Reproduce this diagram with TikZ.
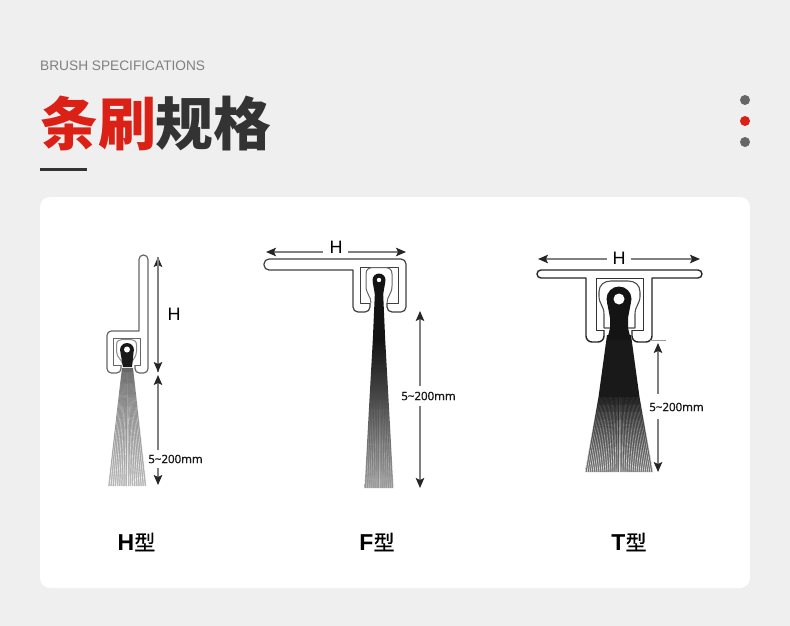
\documentclass[tikz,border=0pt]{standalone}
\usepackage{fontspec}
\usetikzlibrary{arrows.meta}
\setmainfont{Liberation Sans}
\newfontfamily\cjk{Noto Sans CJK SC}
\newfontfamily\cjkmid[FakeBold=0.6]{Noto Sans CJK SC}
\newfontfamily\dimfont[FakeBold=0.5]{Noto Sans}
\definecolor{pagegray}{HTML}{EFEFEF}
\definecolor{titlered}{HTML}{DB2015}
\definecolor{titledark}{HTML}{333333}
\definecolor{dotgray}{HTML}{666666}
\definecolor{subgray}{HTML}{808080}
\definecolor{linegray}{HTML}{808080}

\tikzset{
  profile/.style={draw=#1,line width=1.2pt,line join=round},
  profile/.default={black!80},
  dimline/.style={draw=linegray,line width=1.2pt,-{Stealth[length=10pt,width=8.5pt,inset=2pt,black!85]}},
  dimtext/.style={font=\dimfont\fontsize{11.5}{12}\selectfont,inner sep=1pt,text=black!90},
  hmark/.style={font=\fontsize{18}{18}\selectfont,inner sep=0pt,text=black},
  typelabel/.style={font=\fontsize{23}{23}\selectfont,inner sep=0pt,text=black},
  sidedot/.style={shape=circle,fill=#1,inner sep=0pt,minimum size=10pt}
}

% white gaps between the bristles, stronger towards the tip
\newcommand{\bristles}[7]{%
  \foreach \i in {-#6,...,#6}{
    \foreach \s in {0,...,9}{
      \pgfmathsetmacro{\ya}{#2+(#4-#2)*\s/10}
      \pgfmathsetmacro{\yb}{#2+(#4-#2)*(\s+1)/10}
      \pgfmathsetmacro{\xa}{#1+\i/#6*(#3+(#5-#3)*\s/10)}
      \pgfmathsetmacro{\xb}{#1+\i/#6*(#3+(#5-#3)*(\s+1)/10)}
      \pgfmathsetmacro{\op}{#7*(\s+1)/10}
      \draw[white,line width=0.6pt,opacity=\op] (\xa,\ya) -- (\xb,\yb);
    }
  }
}

\begin{document}
\begin{tikzpicture}[x=1pt,y=-1pt]

  \fill[pagegray] (0,0) rectangle (790,626);
  \useasboundingbox (0,0) rectangle (790,626);
  \fill[white,rounded corners=10pt] (40,197) rectangle (750,588);

  % heading
  \node[anchor=west,inner sep=0pt,text=subgray,font=\fontsize{13.7}{15}\selectfont] (subtitle) at (40,65.5) {BRUSH SPECIFICATIONS};
  \node[anchor=west,inner sep=0pt,font=\cjk\bfseries\fontsize{57.8}{58}\selectfont] (title) at (40,123) {\textcolor{titlered}{条刷}\textcolor{titledark}{规格}};
  \fill[titledark] (40,168) rectangle (87,171);

  \node[sidedot=dotgray] (dot1) at (745,100) {};
  \node[sidedot=titlered] (dot2) at (745,121) {};
  \node[sidedot=dotgray] (dot3) at (745,142) {};

  % H type
  \shade[top color=black!60,bottom color=black!28] (122,368) -- (133,368) -- (146.5,486) -- (108,486) -- cycle;
  \bristles{127.2}{372}{6}{487}{19.5}{9}{0.85}
  \draw[profile=black!60] (121,365) [rounded corners=4.4pt] -- (121,373) -- (107,373) -- (107,331) [sharp corners] -- (139,331) [rounded corners=4.4pt] -- (139,255) -- (148,255) -- (148,373) -- (135,373) -- (135,365);
  \draw[profile=black!60,line width=0.9pt] (121,365) -- (113,365) -- (113,338) -- (140,338) -- (140,365) -- (135,365);
  \draw[profile=black!45,line width=1pt] (123,365) .. controls (122,359) and (116.5,358) .. (116.5,351) -- (116.5,345) .. controls (116.5,341) and (119,339.5) .. (122,339.5) -- (131,339.5) .. controls (134,339.5) and (136.5,341) .. (136.5,345) -- (136.5,351) .. controls (136.5,358) and (132,359) .. (131,365);
  \fill[black!90] (127,350) circle (7pt);
  \fill[black!90] (120.5,353) -- (123,367) -- (132,367) -- (133.5,353) -- cycle;
  \fill[white] (127,349.5) circle (3pt);

  \node[hmark] (Hh) at (174,314) {H};
  \node[dimtext] (Hd) at (175.5,459) {5\textasciitilde200mm};
  \coordinate (Hh1) at (158,257);
  \coordinate (Hh2) at (158,372);
  \coordinate (Hd1) at (158,375);
  \coordinate (Hd2) at (158,485);
  \coordinate (Hm) at (158,450);
  \coordinate (Hn) at (158,468);
  \draw[dimline] (Hh2) -- (Hh1);
  \draw[dimline] (Hh1) -- (Hh2);
  \draw[dimline] (Hm) -- (Hd1);
  \draw[dimline] (Hn) -- (Hd2);
  \node[typelabel] (Ht) at (136.5,542) {\textbf{H}{\cjkmid\fontsize{21}{21}\selectfont 型}};

  % F type
  \fill[black!92] (375,290) -- (383,290) -- (385.2,340) -- (372.8,340) -- cycle;
  \shade[top color=black!92,bottom color=black!40] (372.8,340) -- (385.2,340) -- (393.5,488) -- (364.5,488) -- cycle;
  \bristles{379}{400}{10}{488}{14.5}{7}{0.4}
  \draw[profile=black!75] (370,303) [rounded corners=5pt] -- (370,312) -- (353,312) [sharp corners] -- (353,270) [rounded corners=5pt] -- (264,270) -- (264,259) -- (406,259) -- (406,312) -- (387,312) -- (387,303);
  \draw[profile=black!75,line width=1pt] (370,303) -- (360,303) -- (360,267) -- (398,267) -- (398,303) -- (387,303);
  \draw[profile=black!60,line width=1pt] (371,303) .. controls (371,296) and (366,294) .. (366,286) -- (366,274) .. controls (366,269) and (369,267.5) .. (374,267.5) -- (384,267.5) .. controls (389,267.5) and (392,269) .. (392,274) -- (392,286) .. controls (392,294) and (387,296) .. (387,303);
  \fill[black!92] (379,280) circle (6.5pt);
  \fill[black!92] (372.7,282) -- (375,295) -- (383,295) -- (385.3,282) -- cycle;
  \fill[white] (379,280) circle (2.2pt);

  \node[hmark] (Fh) at (336,247) {H};
  \node[dimtext] (Fd) at (428.5,396) {5\textasciitilde200mm};
  \coordinate (Fh1) at (266,252);
  \coordinate (Fh2) at (406,252);
  \coordinate (Fh3) at (323,252);
  \coordinate (Fh4) at (348,252);
  \coordinate (Fd1) at (420,311);
  \coordinate (Fd2) at (420,488);
  \coordinate (Fm) at (420,386);
  \coordinate (Fn) at (420,406);
  \draw[dimline] (Fh3) -- (Fh1);
  \draw[dimline] (Fh4) -- (Fh2);
  \draw[dimline] (Fm) -- (Fd1);
  \draw[dimline] (Fn) -- (Fd2);
  \node[typelabel] (Ft) at (377,542) {\textbf{F}{\cjkmid\fontsize{21}{21}\selectfont 型}};

  % T type
  \fill[black!90] (607,335) -- (631,335) -- (639.5,397) -- (598.5,397) -- cycle;
  \shade[top color=black!90,bottom color=black!55] (598.5,397) -- (639.5,397) -- (653,472) -- (585,472) -- cycle;
  \bristles{619}{397}{20.5}{473}{34}{17}{0.8}
  \draw[profile=black!85,line width=1.4pt] (604,330) [rounded corners=6pt] -- (604,342) -- (586,342) [sharp corners] -- (586,278) [rounded corners=4pt] -- (537,278) -- (537,270) -- (702,270) -- (702,278) [sharp corners] -- (652,278) [rounded corners=6pt] -- (652,342) -- (632,342) -- (632,330);
  \draw[profile=black!80,line width=1pt] (604,330) -- (596,330) -- (596,278) -- (643,278) -- (643,330) -- (632,330);
  \draw[profile=black!70,line width=1.1pt] (611,328) -- (604,328) -- (604,314) .. controls (604,306) and (599,304) .. (599,296) -- (599,292) .. controls (599,285) and (604,281) .. (611,281) -- (628,281) .. controls (635,281) and (640,285) .. (640,292) -- (640,296) .. controls (640,304) and (635,306) .. (635,314) -- (635,328) -- (628,328);
  \fill[black!92] (619,299) circle (12.5pt);
  \fill[black!92] (607,302) -- (610,318) -- (610,328) -- (607,340) -- (631,340) -- (628,328) -- (628,318) -- (631,302) -- cycle;
  \fill[white] (619,299) circle (5.5pt);

  \node[hmark] (Th) at (619,258) {H};
  \node[dimtext] (Td) at (676.5,407) {5\textasciitilde200mm};
  \coordinate (Th1) at (538,259);
  \coordinate (Th2) at (700,259);
  \coordinate (Th3) at (607,259);
  \coordinate (Th4) at (631,259);
  \coordinate (Td1) at (658,343);
  \coordinate (Td2) at (658,472);
  \coordinate (Tm) at (658,394);
  \coordinate (Tn) at (658,419);
  \coordinate (Ttick1) at (650,340.5);
  \coordinate (Ttick2) at (666,340.5);
  \draw[draw=black!40,line width=0.7pt] (Ttick1) -- (Ttick2);
  \draw[dimline] (Th3) -- (Th1);
  \draw[dimline] (Th4) -- (Th2);
  \draw[dimline] (Tm) -- (Td1);
  \draw[dimline] (Tn) -- (Td2);
  \node[typelabel] (Tt) at (629,542) {\textbf{T}{\cjkmid\fontsize{21}{21}\selectfont 型}};

\end{tikzpicture}
\end{document}
